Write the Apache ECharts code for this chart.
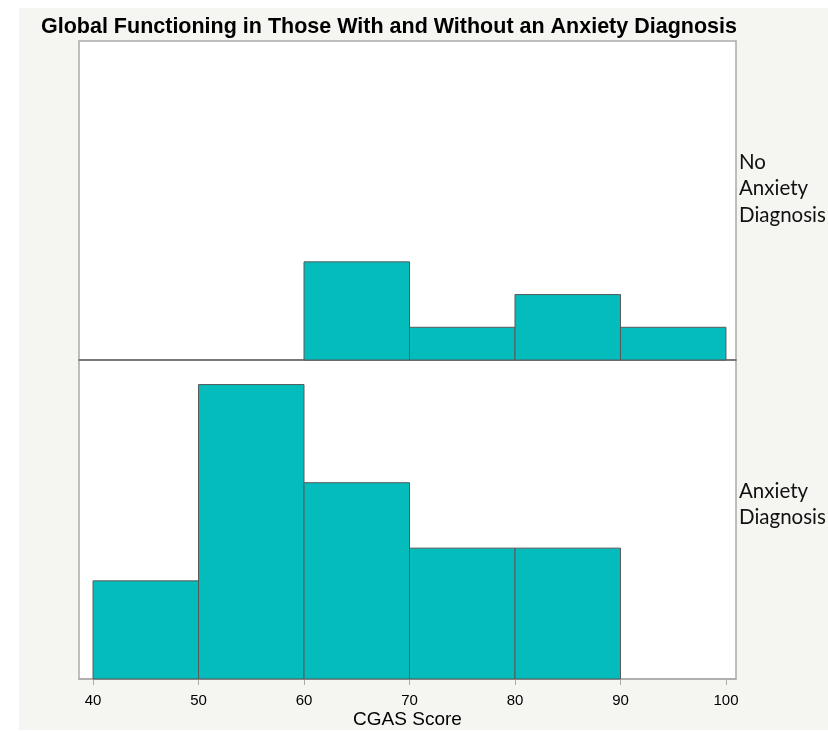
<!DOCTYPE html>
<html>
<head>
<meta charset="utf-8">
<script src="https://cdn.jsdelivr.net/npm/echarts@6/dist/echarts.min.js"></script>
<style>
html, body { margin: 0; padding: 0; background: #fff; }
#main { width: 828px; height: 731px; }
</style>
</head>
<body>
<div id="main"></div>
<script>
// bins of 10 on the CGAS score
var binStarts = [40, 50, 60, 70, 80, 90]
var noAnxietyCounts = [0, 0, 3, 1, 2, 1]
var anxietyCounts = [3, 9, 6, 4, 4, 0]
var xTicks = [40, 50, 60, 70, 80, 90, 100]
var panelNames = ['No\nAnxiety\nDiagnosis', 'Anxiety\nDiagnosis']

function toBins(counts) {
    var out = []
    for (var i = 0; i < binStarts.length; i++) {
        if (counts[i] > 0) out.push([binStarts[i], binStarts[i] + 10, counts[i]])
    }
    return out
}

function drawBin(params, api) {
    var a = api.coord([api.value(0), api.value(2)])
    var b = api.coord([api.value(1), 0])
    return {
        type: 'rect',
        shape: { x: a[0], y: a[1], width: b[0] - a[0], height: b[1] - a[1] },
        style: { fill: '#04bcbc', stroke: '#5a5a5a', lineWidth: 1 }
    }
}

var myChart = echarts.init(document.getElementById('main'))
myChart.setOption({
    animation: false,
    backgroundColor: '#fff',
    title: {
        text: 'Global Functioning in Those With and Without an Anxiety Diagnosis',
        left: 36, top: 11,
        textStyle: { fontFamily: 'Liberation Sans', fontWeight: 'bold', fontSize: 21.5, color: '#000' }
    },
    graphic: [
        { type: 'rect', z: -10, shape: { x: 19, y: 8, width: 809, height: 722 }, style: { fill: '#f5f5f1' } },
        { type: 'text', left: 739, top: 149, style: { text: panelNames[0], fontFamily: 'Lato', fontSize: 20.5, lineHeight: 26.5, fill: '#111' } },
        { type: 'text', left: 739, top: 478, style: { text: panelNames[1], fontFamily: 'Lato', fontSize: 20.5, lineHeight: 26.5, fill: '#111' } }
    ],
    grid: [
        { left: 79, top: 41, width: 657, height: 319, outerBoundsMode: 'none', containLabel: false, show: true, backgroundColor: '#fff', borderColor: '#aaa', borderWidth: 1.5 },
        { left: 79, top: 360, width: 657, height: 319, outerBoundsMode: 'none', containLabel: false, show: true, backgroundColor: '#fff', borderColor: '#aaa', borderWidth: 1.5 }
    ],
    xAxis: [
        {
            gridIndex: 0, type: 'value', min: 38.67, max: 100.95,
            axisLine: { show: true, onZero: false, lineStyle: { color: '#666', width: 1.5 } },
            axisTick: { show: false }, axisLabel: { show: false }, splitLine: { show: false }
        },
        {
            gridIndex: 1, type: 'value', min: 38.67, max: 100.95,
            name: 'CGAS Score', nameLocation: 'middle', nameGap: 31,
            nameTextStyle: { fontFamily: 'Liberation Sans', fontSize: 19, color: '#000' },
            axisLine: { show: true, onZero: false, lineStyle: { color: '#aaa', width: 1.5 } },
            axisTick: { show: true, length: 6, lineStyle: { color: '#aaa' }, customValues: xTicks },
            axisLabel: { customValues: xTicks, fontFamily: 'Liberation Sans', fontSize: 15, color: '#000', margin: 14 },
            splitLine: { show: false }
        }
    ],
    yAxis: [
        { gridIndex: 0, type: 'value', min: 0, max: 9.75, show: false, splitLine: { show: false } },
        { gridIndex: 1, type: 'value', min: 0, max: 9.75, show: false, splitLine: { show: false } }
    ],
    series: [
        { type: 'custom', xAxisIndex: 0, yAxisIndex: 0, renderItem: drawBin, data: toBins(noAnxietyCounts) },
        { type: 'custom', xAxisIndex: 1, yAxisIndex: 1, renderItem: drawBin, data: toBins(anxietyCounts) }
    ]
})
</script>
</body>
</html>
